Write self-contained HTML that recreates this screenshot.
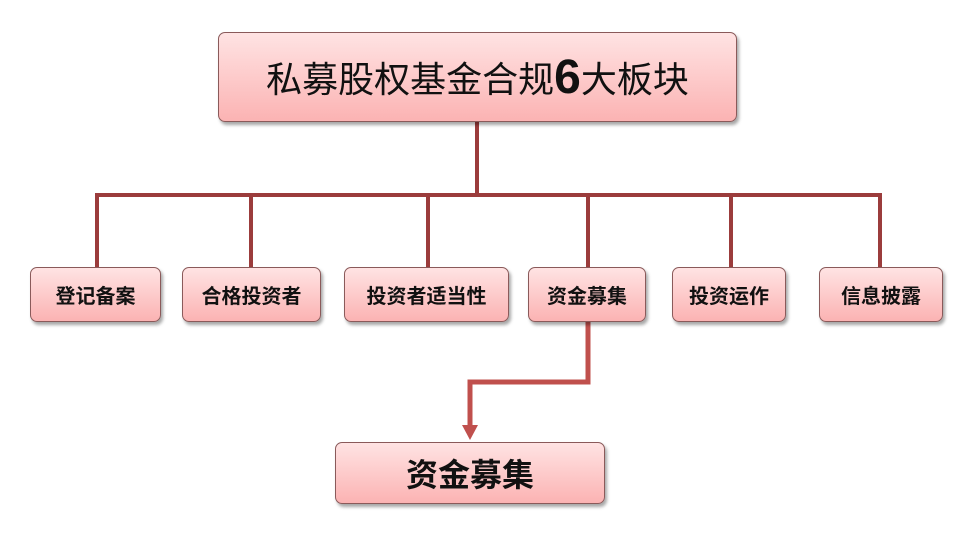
<!DOCTYPE html>
<html><head><meta charset="utf-8"><style>
body{margin:0;width:967px;height:534px;background:#fff;position:relative;overflow:hidden;font-family:"Liberation Sans","Noto Sans CJK SC",sans-serif}
.b{position:absolute;box-sizing:border-box;border:1px solid #8a5a5a;border-radius:7px;background:linear-gradient(#ffe3e3,#fbb3b3);box-shadow:2px 3px 3px rgba(0,0,0,.35);display:flex;align-items:center;justify-content:center;color:#111;font-weight:bold;font-size:20px}
svg{position:absolute;left:0;top:0}
</style></head><body>
<svg width="967" height="534">
<g stroke="#9b3c3c" stroke-width="4" fill="none">
<line x1="477" y1="120" x2="477" y2="195"/>
<line x1="95" y1="195" x2="882" y2="195"/>
<line x1="97" y1="195" x2="97" y2="268"/>
<line x1="251" y1="195" x2="251" y2="268"/>
<line x1="428" y1="195" x2="428" y2="268"/>
<line x1="588" y1="195" x2="588" y2="268"/>
<line x1="731" y1="195" x2="731" y2="268"/>
<line x1="880" y1="195" x2="880" y2="268"/>
</g>
<polyline points="588,322 588,382 470,382 470,428" stroke="#c0504d" stroke-width="5" fill="none"/>
<polygon points="462,425 478,425 470,440" fill="#c0504d"/>
</svg>
<div class="b" style="left:218px;top:32px;width:519px;height:90px;font-weight:normal;font-size:36px">私募股权基金合规<b style="font-size:48px">6</b>大板块</div>
<div class="b" style="left:30px;top:267px;width:131px;height:55px">登记备案</div>
<div class="b" style="left:182px;top:267px;width:139px;height:55px">合格投资者</div>
<div class="b" style="left:344px;top:267px;width:165px;height:55px">投资者适当性</div>
<div class="b" style="left:528px;top:267px;width:118px;height:55px">资金募集</div>
<div class="b" style="left:672px;top:267px;width:114px;height:55px">投资运作</div>
<div class="b" style="left:819px;top:267px;width:124px;height:55px">信息披露</div>
<div class="b" style="left:335px;top:442px;width:270px;height:62px;font-size:32px">资金募集</div>
</body></html>
